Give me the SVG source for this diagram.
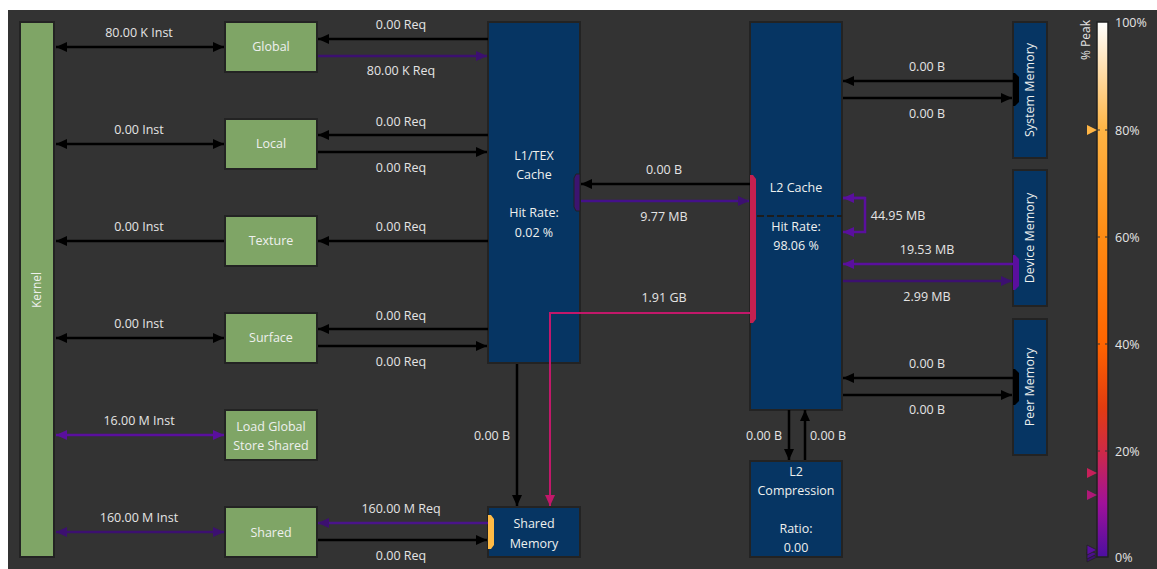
<svg xmlns="http://www.w3.org/2000/svg" width="1157" height="569" viewBox="0 0 1157 569">
<defs>
<style>
.bg{fill:#333333}
.g{fill:#7fa566;stroke:#232323;stroke-width:2}
.b{fill:#063563;stroke:#232323;stroke-width:2}
.t{font-family:"Open Sans","Noto Sans",sans-serif;font-size:12.5px;fill:#e4e4e4;text-anchor:middle}
.nt{font-family:"Open Sans","Noto Sans",sans-serif;font-size:12.5px;fill:#eef0ee;text-anchor:middle}
.lg{font-family:"Open Sans","Noto Sans",sans-serif;font-size:12.5px;fill:#e4e4e4}
.k{fill:none;stroke:#000;stroke-width:2.5}
.p1{fill:none;stroke:#5a0f9e;stroke-width:2.5}
.p2{fill:none;stroke:#3c1070;stroke-width:2.5}
.m{fill:none;stroke:#c2186a;stroke-width:2}
</style>
<marker id="ak" markerUnits="userSpaceOnUse" markerWidth="11" markerHeight="10" refX="11" refY="5" orient="auto-start-reverse"><path d="M0,0 L11,5 L0,10 z" fill="#000"/></marker>
<marker id="ap1" markerUnits="userSpaceOnUse" markerWidth="11" markerHeight="10" refX="11" refY="5" orient="auto-start-reverse"><path d="M0,0 L11,5 L0,10 z" fill="#5a0f9e"/></marker>
<marker id="ap2" markerUnits="userSpaceOnUse" markerWidth="11" markerHeight="10" refX="11" refY="5" orient="auto-start-reverse"><path d="M0,0 L11,5 L0,10 z" fill="#3c1070"/></marker>
<marker id="am" markerUnits="userSpaceOnUse" markerWidth="11" markerHeight="10" refX="11" refY="5" orient="auto-start-reverse"><path d="M0,0 L11,5 L0,10 z" fill="#c2186a"/></marker>
<linearGradient id="peak" x1="0" y1="1" x2="0" y2="0">
<stop offset="0" stop-color="#4c0fa0"/>
<stop offset="0.1" stop-color="#a0119a"/>
<stop offset="0.2" stop-color="#d02a45"/>
<stop offset="0.28" stop-color="#e23c10"/>
<stop offset="0.4" stop-color="#ff6500"/>
<stop offset="0.6" stop-color="#ff8c14"/>
<stop offset="0.8" stop-color="#ffb545"/>
<stop offset="1" stop-color="#ffffff"/>
</linearGradient>
</defs>
<rect x="0" y="0" width="1157" height="569" fill="#ffffff"/>
<rect class="bg" x="8" y="10" width="1149" height="559"/>

<g id="kernel">
<rect class="g" x="20" y="22" width="34" height="535"/>
<text class="nt" x="37" y="294" transform="rotate(-90 37 290)" style="font-size:12px">Kernel</text>
</g>
<g id="global"><rect class="g" x="225" y="22" width="92" height="50"/><text class="nt" x="271" y="51">Global</text></g>
<g id="local"><rect class="g" x="225" y="119" width="92" height="50"/><text class="nt" x="271" y="148">Local</text></g>
<g id="texture"><rect class="g" x="225" y="216" width="92" height="50"/><text class="nt" x="271" y="245">Texture</text></g>
<g id="surface"><rect class="g" x="225" y="313" width="92" height="50"/><text class="nt" x="271" y="342">Surface</text></g>
<g id="lgss"><rect class="g" x="225" y="410" width="92" height="50"/><text class="nt" x="271" y="431">Load Global</text><text class="nt" x="271" y="450">Store Shared</text></g>
<g id="shared"><rect class="g" x="225" y="507" width="92" height="50"/><text class="nt" x="271" y="537">Shared</text></g>

<g id="l1tex">
<rect class="b" x="488" y="22" width="92" height="341"/>
<text class="nt" x="534" y="160">L1/TEX</text>
<text class="nt" x="534" y="179">Cache</text>
<text class="nt" x="534" y="217">Hit Rate:</text>
<text class="nt" x="534" y="237">0.02 %</text>
<polygon points="580,174 576,174 574,178 574,207 576,211 580,211" fill="#3c1470" stroke="#222" stroke-width="1"/>
</g>

<g id="shared-memory">
<rect class="b" x="488" y="507" width="92" height="50"/>
<text class="nt" x="534" y="528">Shared</text>
<text class="nt" x="534" y="548">Memory</text>
<polygon points="488,515 491,515 494,519 494,545 491,549 488,549" fill="#ffbb45"/>
</g>

<g id="l2cache">
<rect class="b" x="750" y="22" width="92" height="388"/>
<line x1="757" y1="216" x2="842" y2="216" stroke="#1c1c1c" stroke-width="2" stroke-dasharray="7,3"/>
<text class="nt" x="796" y="192">L2 Cache</text>
<text class="nt" x="796" y="231">Hit Rate:</text>
<text class="nt" x="796" y="250">98.06 %</text>
<polygon points="750,175 753,175 756,179 756,319 753,323 750,323" fill="#c42050"/>
</g>

<g id="l2compression">
<rect class="b" x="750" y="461" width="92" height="96"/>
<text class="nt" x="796" y="476">L2</text>
<text class="nt" x="796" y="495">Compression</text>
<text class="nt" x="796" y="533">Ratio:</text>
<text class="nt" x="796" y="552">0.00</text>
</g>

<g id="system-memory">
<rect class="b" x="1013" y="22" width="34" height="136"/>
<text class="nt" x="1030" y="94" transform="rotate(-90 1030 90)">System Memory</text>
<polygon points="1013,73 1015,73 1019,77 1019,102 1015,106 1013,106" fill="#000"/>
</g>
<g id="device-memory">
<rect class="b" x="1013" y="170" width="34" height="136"/>
<text class="nt" x="1030" y="242" transform="rotate(-90 1030 238)">Device Memory</text>
<polygon points="1013,255 1015,255 1019,259 1019,286 1015,290 1013,290" fill="#5a0f9e"/>
</g>
<g id="peer-memory">
<rect class="b" x="1013" y="319" width="34" height="136"/>
<text class="nt" x="1030" y="391" transform="rotate(-90 1030 387)">Peer Memory</text>
<polygon points="1013,369 1015,369 1019,373 1019,401 1015,405 1013,405" fill="#000"/>
</g>

<g id="connectors">
<line class="k" x1="56" y1="47" x2="224" y2="47" marker-start="url(#ak)" marker-end="url(#ak)"/>
<text class="t" x="139" y="37">80.00 K Inst</text>
<line class="k" x1="56" y1="144" x2="224" y2="144" marker-start="url(#ak)" marker-end="url(#ak)"/>
<text class="t" x="139" y="134">0.00 Inst</text>
<line class="k" x1="224" y1="241" x2="56" y2="241" marker-end="url(#ak)"/>
<text class="t" x="139" y="231">0.00 Inst</text>
<line class="k" x1="56" y1="338" x2="224" y2="338" marker-start="url(#ak)" marker-end="url(#ak)"/>
<text class="t" x="139" y="328">0.00 Inst</text>
<line class="p1" x1="56" y1="435" x2="224" y2="435" marker-start="url(#ap1)" marker-end="url(#ap1)"/>
<text class="t" x="139" y="425">16.00 M Inst</text>
<line class="p2" x1="56" y1="532" x2="224" y2="532" marker-start="url(#ap2)" marker-end="url(#ap2)"/>
<text class="t" x="139" y="522">160.00 M Inst</text>
<line class="k" x1="488" y1="39" x2="318" y2="39" marker-end="url(#ak)"/>
<text class="t" x="401" y="29">0.00 Req</text>
<line class="p2" x1="318" y1="56" x2="487" y2="56" marker-end="url(#ap2)"/>
<text class="t" x="401" y="75">80.00 K Req</text>
<line class="k" x1="488" y1="135" x2="318" y2="135" marker-end="url(#ak)"/>
<text class="t" x="401" y="126">0.00 Req</text>
<line class="k" x1="318" y1="152" x2="487" y2="152" marker-end="url(#ak)"/>
<text class="t" x="401" y="172">0.00 Req</text>
<line class="k" x1="488" y1="241" x2="318" y2="241" marker-end="url(#ak)"/>
<text class="t" x="401" y="231">0.00 Req</text>
<line class="k" x1="488" y1="329" x2="318" y2="329" marker-end="url(#ak)"/>
<text class="t" x="401" y="320">0.00 Req</text>
<line class="k" x1="318" y1="346" x2="487" y2="346" marker-end="url(#ak)"/>
<text class="t" x="401" y="366">0.00 Req</text>
<line class="p2" x1="488" y1="523" x2="318" y2="523" marker-end="url(#ap2)" style="stroke:#4a148a"/>
<text class="t" x="401" y="513">160.00 M Req</text>
<line class="k" x1="318" y1="540" x2="487" y2="540" marker-end="url(#ak)"/>
<text class="t" x="401" y="560">0.00 Req</text>
<line class="k" x1="517" y1="364" x2="517" y2="506" marker-end="url(#ak)"/>
<text class="t" x="492" y="440">0.00 B</text>
<line class="k" x1="750" y1="184" x2="581" y2="184" marker-end="url(#ak)"/>
<text class="t" x="664" y="174">0.00 B</text>
<line class="p2" x1="581" y1="201" x2="749" y2="201" marker-end="url(#ap2)" style="stroke:#44108a"/>
<text class="t" x="664" y="221">9.77 MB</text>
<polyline class="m" points="750,313 550,313 550,506" marker-end="url(#am)"/>
<text class="t" x="664" y="302">1.91 GB</text>
<polyline class="p1" points="843,198 865,198 865,232 843,232" marker-end="url(#ap1)"/>
<line class="p1" x1="865" y1="198" x2="843" y2="198" marker-end="url(#ap1)"/>
<text class="t" x="898" y="220">44.95 MB</text>
<line class="k" x1="1013" y1="81" x2="843" y2="81" marker-end="url(#ak)"/>
<text class="t" x="927" y="71">0.00 B</text>
<line class="k" x1="843" y1="98" x2="1012" y2="98" marker-end="url(#ak)"/>
<text class="t" x="927" y="118">0.00 B</text>
<line class="p1" x1="1013" y1="264" x2="843" y2="264" marker-end="url(#ap1)"/>
<text class="t" x="927" y="254">19.53 MB</text>
<line class="p2" x1="843" y1="281" x2="1012" y2="281" marker-end="url(#ap2)"/>
<text class="t" x="927" y="301">2.99 MB</text>
<line class="k" x1="1013" y1="378" x2="843" y2="378" marker-end="url(#ak)"/>
<text class="t" x="927" y="368">0.00 B</text>
<line class="k" x1="843" y1="395" x2="1012" y2="395" marker-end="url(#ak)"/>
<text class="t" x="927" y="414">0.00 B</text>
<line class="k" x1="789" y1="410" x2="789" y2="460" marker-end="url(#ak)"/>
<text class="t" x="764" y="440">0.00 B</text>
<line class="k" x1="805" y1="460" x2="805" y2="410" marker-end="url(#ak)"/>
<text class="t" x="828" y="440">0.00 B</text>
</g>

<g id="legend">
<rect x="1097" y="22" width="11" height="535" fill="url(#peak)" stroke="#222" stroke-width="1.5"/>
<g stroke="#333" stroke-width="1" stroke-dasharray="3,5">
<line x1="1097" y1="130" x2="1111" y2="130"/>
<line x1="1097" y1="237" x2="1111" y2="237"/>
<line x1="1097" y1="344" x2="1111" y2="344"/>
<line x1="1097" y1="451" x2="1111" y2="451"/>
</g>
<text class="lg" x="1094" y="44" transform="rotate(-90 1090 44)" text-anchor="middle" style="font-size:12px">% Peak</text>
<text class="lg" x="1115" y="27">100%</text>
<text class="lg" x="1115" y="135">80%</text>
<text class="lg" x="1115" y="242">60%</text>
<text class="lg" x="1115" y="349">40%</text>
<text class="lg" x="1115" y="456">20%</text>
<text class="lg" x="1115" y="562">0%</text>
<polygon points="1087,125 1097,130 1087,135" fill="#ffb545"/>
<polygon points="1087,468 1097,473 1087,478" fill="#c8205a"/>
<polygon points="1087,490 1097,495 1087,500" fill="#b01878"/>
<polygon points="1087,552 1097,557 1087,562" fill="#3c1070" stroke="#222" stroke-width="0.8"/>
<polygon points="1087,549 1097,554 1087,559" fill="#4a108a" stroke="#222" stroke-width="0.8"/>
<polygon points="1087,545 1097,550 1087,555" fill="#5a0f9e" stroke="#222" stroke-width="0.8"/>
</g>
</svg>
